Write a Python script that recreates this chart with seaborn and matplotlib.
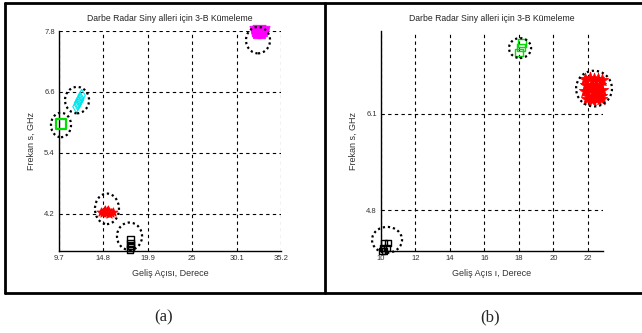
import numpy as np
import pandas as pd
import seaborn as sns
import matplotlib.pyplot as plt
from matplotlib.lines import Line2D
from matplotlib.patches import Ellipse

# ---- panel (a) clusters: angle (deg), frequency (GHz)
a_mag_x = [32.3, 32.7, 33.1, 32.5, 32.9]
a_mag_y = [7.80, 7.81, 7.80, 7.76, 7.76]
a_cya_x = [12.3, 12.15, 12.0, 11.85, 11.7, 12.1, 11.9]
a_cya_y = [6.53, 6.47, 6.42, 6.36, 6.31, 6.44, 6.39]
a_grn_x = [9.93]
a_grn_y = [5.97]
a_red_x = [14.5, 14.9, 15.2, 15.5, 15.9, 14.8, 15.1, 15.4, 15.7, 15.0, 15.3]
a_red_y = [4.24, 4.26, 4.25, 4.23, 4.24, 4.21, 4.22, 4.20, 4.22, 4.28, 4.27]
a_blk_x = [17.9, 17.9, 17.9, 17.85, 17.95]
a_blk_y = [3.70, 3.62, 3.54, 3.50, 3.58]

# cluster rings (centre, half-width, half-height)
a_ring_x = [32.56, 11.77, 9.93, 15.21, 17.8]
a_ring_y = [7.62, 6.44, 5.95, 4.30, 3.76]
a_ring_rx = [1.38, 1.38, 1.15, 1.38, 1.44]
a_ring_ry = [0.26, 0.26, 0.24, 0.30, 0.27]

a_xticks = [9.7, 14.8, 19.9, 25, 30.1, 35.2]
a_yticks = [4.2, 5.4, 6.6, 7.8]

# ---- panel (b) clusters
b_grn_x = [18.16, 18.1, 18.0]
b_grn_y = [7.05, 6.99, 6.92]
b_red_x = [21.85, 22.1, 22.35, 22.6, 22.82, 21.9, 22.2, 22.45, 22.7,
           21.85, 22.1, 22.35, 22.6, 22.82, 22.0, 22.3, 22.55, 22.78,
           21.95, 22.25, 22.5, 22.75]
b_red_y = [6.57, 6.58, 6.57, 6.56, 6.55, 6.48, 6.49, 6.47, 6.48,
           6.40, 6.41, 6.39, 6.40, 6.41, 6.33, 6.32, 6.34, 6.33,
           6.29, 6.28, 6.29, 6.30]
b_blk_x = [10.15, 10.4, 10.1, 10.35, 10.2, 10.05]
b_blk_y = [4.36, 4.36, 4.29, 4.29, 4.25, 4.25]

b_ring_x = [18.06, 22.35, 10.35]
b_ring_y = [6.98, 6.435, 4.40]
b_ring_rx = [0.64, 1.04, 0.87]
b_ring_ry = [0.134, 0.24, 0.174]

b_xticks = [10, 12, 14, 16, 18, 20, 22]
b_yticks = [4.8, 6.1]

title = "Darbe Radar Siny alleri için 3-B Kümeleme"

sns.set_style("white")
plt.rcParams["font.family"] = ["Liberation Sans Narrow", "Liberation Sans", "DejaVu Sans"]

fig = plt.figure(figsize=(6.42, 3.33), dpi=100)
ax_a = fig.add_axes([59/642, 82/333, 222/642, 220/333])
ax_b = fig.add_axes([381/642, 82/333, 222/642, 220/333])

trapezoid = [(-1, 0.8), (1, 0.8), (0.6, -0.8), (-0.6, -0.8), (-1, 0.8)]


def scatter(ax, xs, ys, marker, color, size, filled, lw=1.0):
    df = pd.DataFrame({"x": xs, "y": ys})
    kw = dict(facecolor=color) if filled else dict(facecolor="none")
    sns.scatterplot(data=df, x="x", y="y", ax=ax, marker=marker, s=size,
                    edgecolor=color, linewidth=lw, clip_on=False, zorder=3, **kw)


def rings(ax, cx, cy, rx, ry):
    for x, y, w, h in zip(cx, cy, rx, ry):
        ax.add_patch(Ellipse((x, y), 2*w, 2*h, fill=False, edgecolor="black",
                             linewidth=1.6, linestyle=(0, (1, 1.3)),
                             clip_on=False, zorder=4))


def style(ax, xticks, yticks, xlim, ylim, xlabel):
    ax.set_xlim(xlim)
    ax.set_ylim(ylim)
    ax.set_xticks(xticks)
    ax.set_yticks(yticks)
    ax.set_xticklabels([f"{t:g}" for t in xticks])
    ax.set_yticklabels([f"{t:g}" for t in yticks])
    ax.grid(True, color="black", linestyle=(0, (3, 3)), linewidth=0.8)
    ax.set_axisbelow(True)
    for s in ["top", "right"]:
        ax.spines[s].set_visible(False)
    for s in ["left", "bottom"]:
        ax.spines[s].set_color("black")
        ax.spines[s].set_linewidth(1.0)
    ax.tick_params(direction="in", length=2, labelsize=5.5, colors="#333333", pad=3)
    ax.set_xlabel(xlabel, fontsize=6.5, color="#333333", labelpad=5)
    ax.set_ylabel("Frekan s, GHz", fontsize=6.5, color="#333333", labelpad=6)
    ax.set_title(title, fontsize=6.2, color="#222222", pad=7)


# panel (a)
scatter(ax_a, a_mag_x, a_mag_y, trapezoid, "#ff00ff", 90, True, 0.5)
scatter(ax_a, a_cya_x, a_cya_y, "d", "#00e5ee", 38, False, 0.8)
scatter(ax_a, a_grn_x, a_grn_y, "s", "#00dd00", 45, False, 1.6)
scatter(ax_a, a_red_x, a_red_y, "*", "red", 45, True, 0.6)
scatter(ax_a, a_blk_x, a_blk_y, "s", "black", 22, False, 1.0)
rings(ax_a, a_ring_x, a_ring_y, a_ring_rx, a_ring_ry)
style(ax_a, a_xticks, a_yticks, (9.7, 35.2), (3.47, 7.8), "Geliş Açısı, Derece")

# panel (b)
scatter(ax_b, b_grn_x, b_grn_y, "s", "#00dd00", 30, False, 1.0)
scatter(ax_b, b_red_x, b_red_y, "*", "red", 85, True, 0.6)
scatter(ax_b, b_blk_x, b_blk_y, "s", "black", 18, False, 1.0)
rings(ax_b, b_ring_x, b_ring_y, b_ring_rx, b_ring_ry)
style(ax_b, b_xticks, b_yticks, (10, 22.87), (4.25, 7.21), "Geliş Açıs ı, Derece")

# table frame around the two figures
lw = 2.0
for xs, ys in [([5/642, 1.0], [1-3/333, 1-3/333]),
               ([5/642, 1.0], [1-293/333, 1-293/333]),
               ([5/642, 5/642], [1-3/333, 1-293/333]),
               ([325/642, 325/642], [1-3/333, 1-293/333])]:
    fig.add_artist(Line2D(xs, ys, transform=fig.transFigure, color="black", linewidth=lw))

fig.text(164/642, 1-317/333, "(a)", ha="center", va="center", fontsize=12,
         family=["Liberation Serif", "DejaVu Serif"])
fig.text(490/642, 1-317/333, "(b)", ha="center", va="center", fontsize=12,
         family=["Liberation Serif", "DejaVu Serif"])

fig.savefig("out.png", dpi=100)
